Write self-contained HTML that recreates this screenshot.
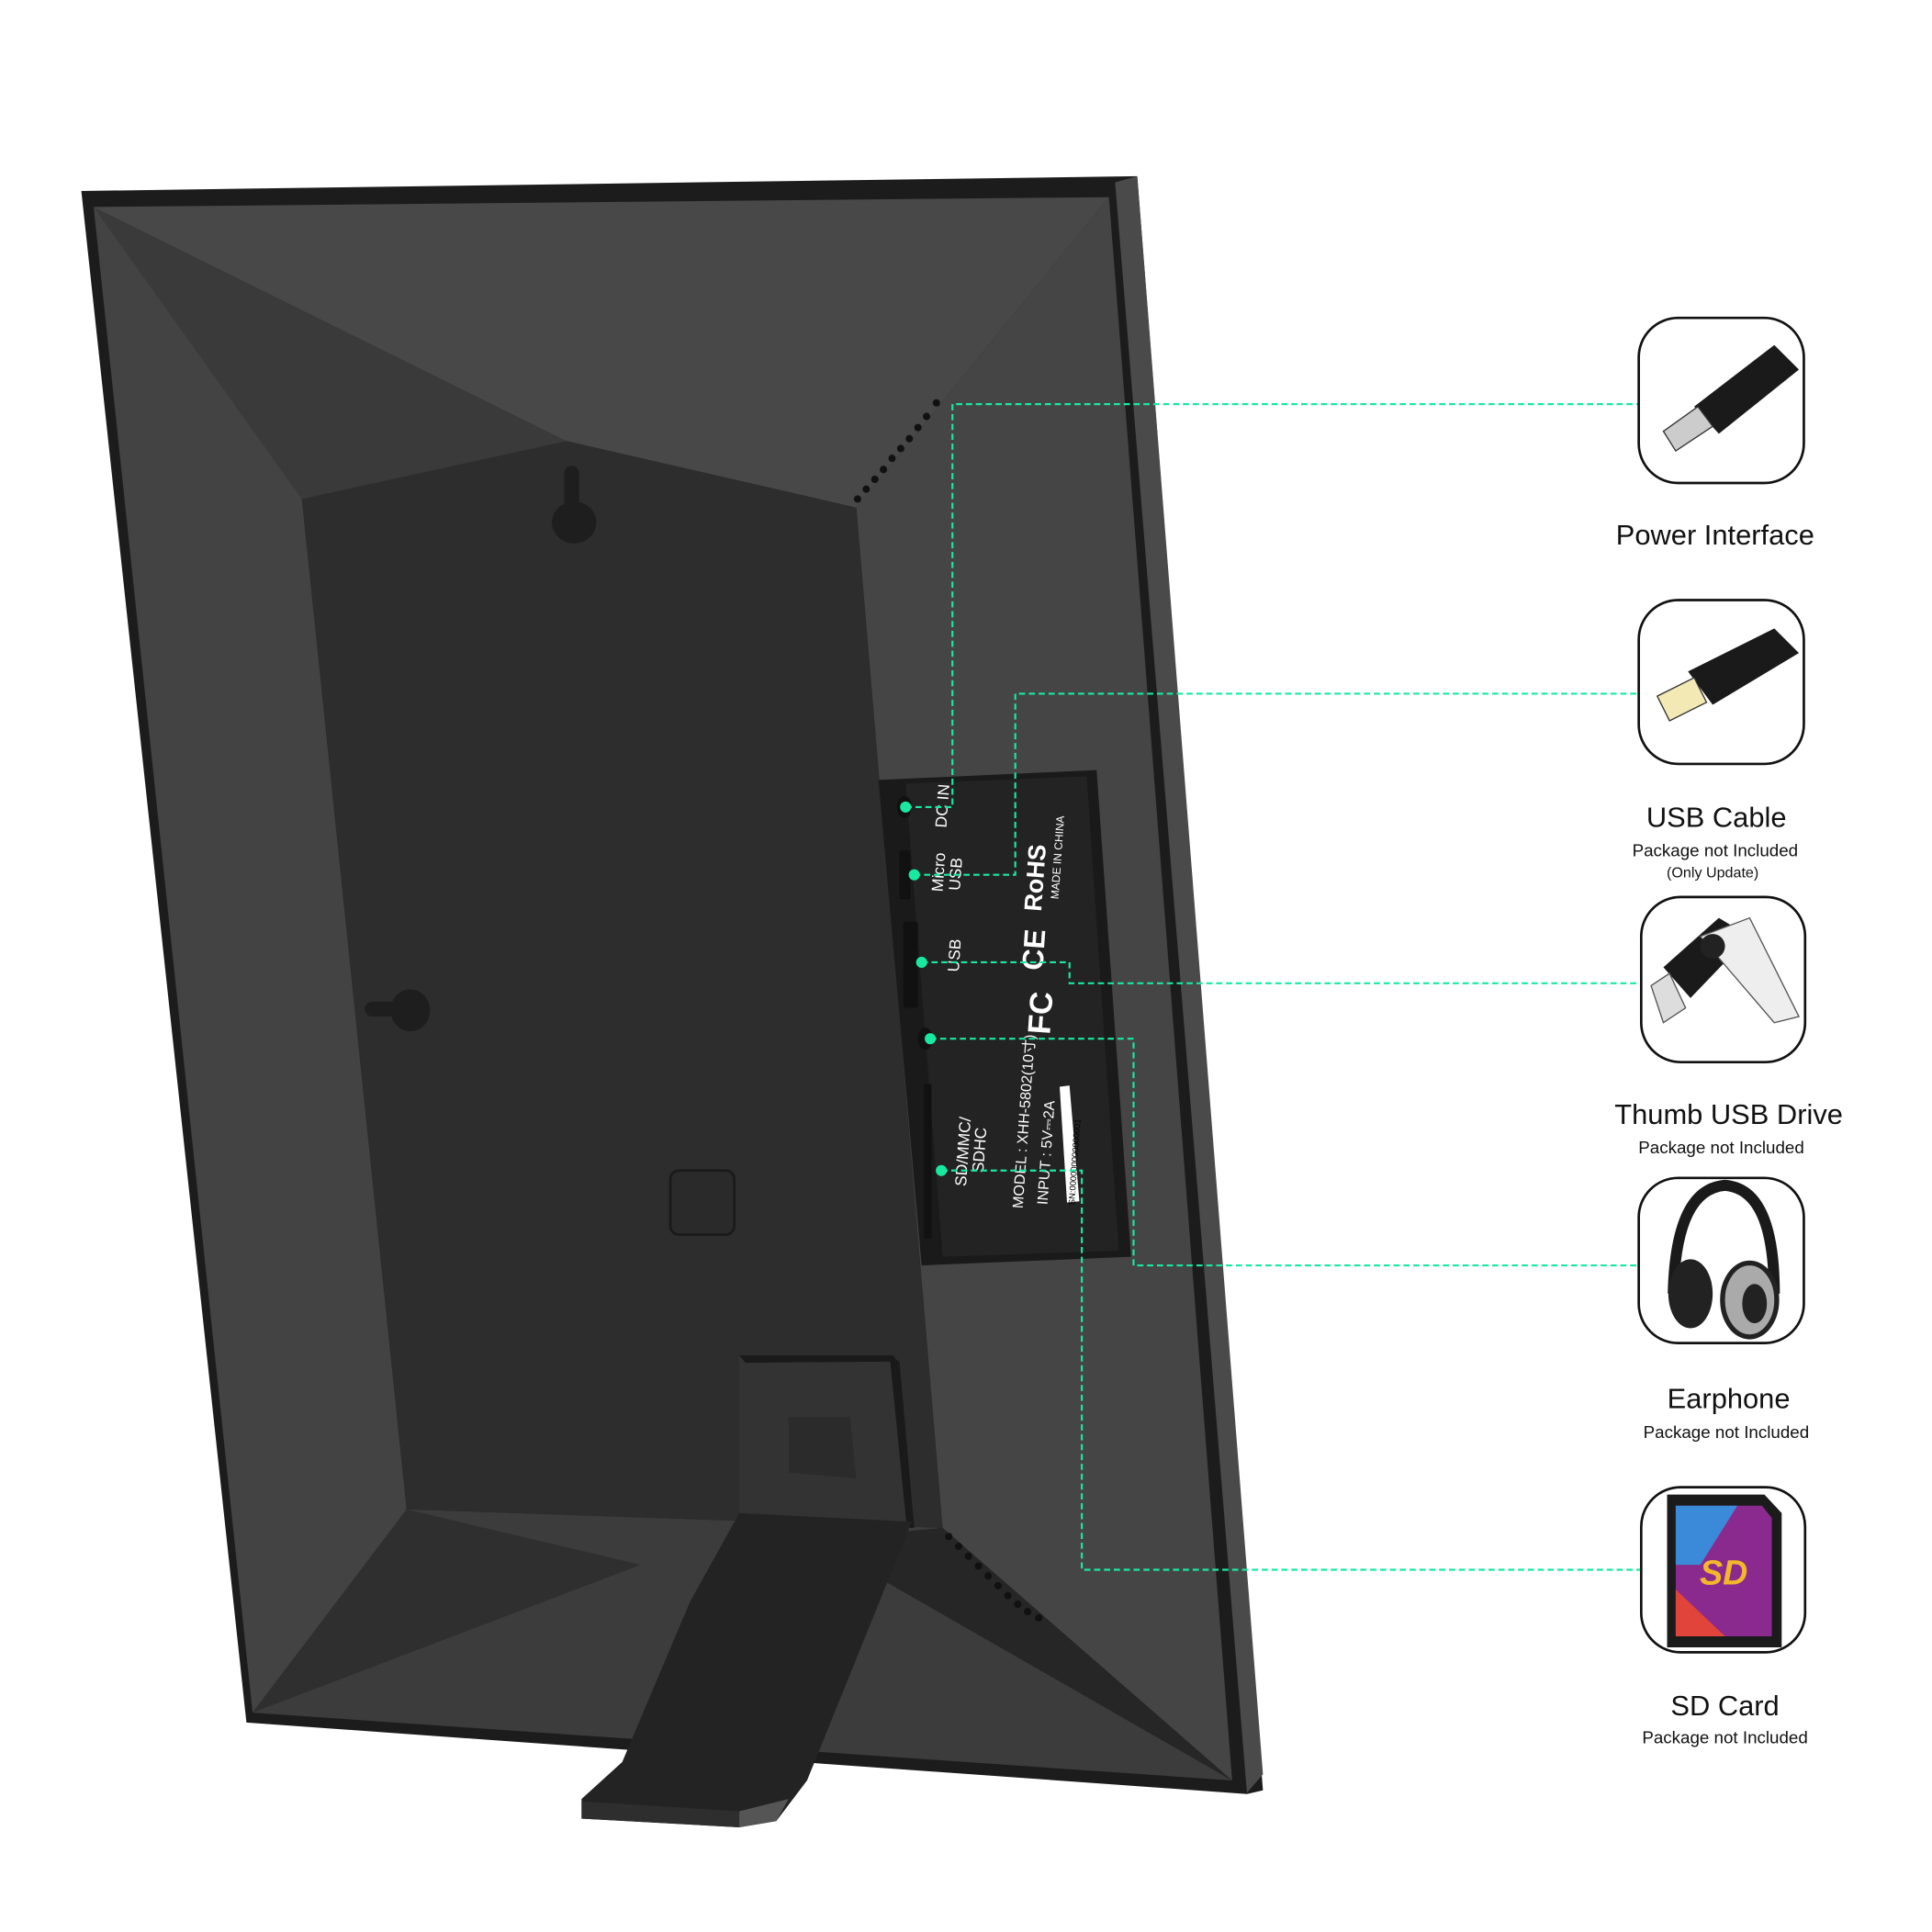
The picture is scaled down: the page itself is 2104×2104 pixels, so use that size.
<!DOCTYPE html>
<html><head><meta charset="utf-8"><style>
html,body{margin:0;padding:0;background:#fff;width:2104px;height:2104px;overflow:hidden}
svg{display:block}
text{font-family:"Liberation Sans",sans-serif}
</style></head><body>
<svg width="2104" height="2104" viewBox="0 0 1568 1568" xmlns="http://www.w3.org/2000/svg">
<rect width="1568" height="1568" fill="#fff"/>
<polygon points="66,155 923,143 1025,1453 1012,1456 200,1398" fill="#1c1c1c"/>
<polygon points="905,148 923,143 1025,1440 1012,1455" fill="#4a4a4a"/>
<polygon points="76,168 900,160 695,412 460,358 245,405" fill="#484848"/>
<polygon points="76,168 460,358 245,405" fill="#3a3a3a"/>
<polygon points="76,168 245,405 330,1225 205,1390" fill="#434343"/>
<polygon points="900,160 1000,1445 765,1240 695,412" fill="#454545"/>
<polygon points="205,1390 330,1225 765,1240 1000,1445" fill="#3c3c3c"/>
<polygon points="765,1240 1000,1445 660,1250" fill="#262626"/>
<polygon points="330,1225 205,1390 520,1270" fill="#2f2f2f"/>
<polygon points="245,405 460,358 695,412 765,1240 330,1225" fill="#2d2d2d"/>
<g fill="#111">
<circle cx="696" cy="405" r="3"/><circle cx="703" cy="397" r="3"/><circle cx="710" cy="389" r="3"/><circle cx="717" cy="381" r="3"/><circle cx="724" cy="372" r="3"/><circle cx="731" cy="364" r="3"/><circle cx="738" cy="356" r="3"/><circle cx="745" cy="347" r="3"/><circle cx="752" cy="338" r="3"/><circle cx="760" cy="327" r="3"/>
<circle cx="770" cy="1247" r="3"/><circle cx="778" cy="1255" r="3"/><circle cx="786" cy="1263" r="3"/><circle cx="794" cy="1271" r="3"/><circle cx="802" cy="1279" r="3"/><circle cx="810" cy="1287" r="3"/><circle cx="818" cy="1295" r="3"/><circle cx="826" cy="1302" r="3"/><circle cx="834" cy="1308" r="3"/><circle cx="843" cy="1313" r="3"/>
</g>
<ellipse cx="466" cy="424" rx="18" ry="17" fill="#1e1e1e"/><rect x="458" y="378" width="12" height="40" rx="6" fill="#1e1e1e"/>
<ellipse cx="333" cy="820" rx="16" ry="17" fill="#1e1e1e"/><rect x="296" y="813" width="40" height="12" rx="6" fill="#1e1e1e"/>
<rect x="544" y="950" width="52" height="52" rx="7" fill="#2a2a2a" stroke="#1a1a1a" stroke-width="2"/>
<polygon points="600,1100 725,1100 740,1235 600,1230" fill="#333"/>
<polygon points="640,1150 690,1150 695,1200 640,1195" fill="#2b2b2b"/>
<polygon points="600,1100 725,1100 728,1105 605,1106" fill="#1a1a1a"/>
<polygon points="722,1100 730,1105 742,1240 736,1240" fill="#1a1a1a"/>
<polygon points="600,1228 740,1235 655,1445 630,1478 600,1483 472,1476 472,1460 505,1430 560,1300" fill="#232323"/>
<polygon points="472,1462 600,1470 600,1483 472,1476" fill="#2e2e2e"/>
<polygon points="600,1470 640,1460 630,1478 600,1483" fill="#555"/>
<polygon points="713,633 890,625 918,1020 748,1027" fill="#1a1a1a"/>
<polygon points="735,636 882,630 908,1015 765,1020" fill="#232323"/>
<g fill="#111"><ellipse cx="734" cy="655" rx="6" ry="9"/><rect x="730" y="690" width="9" height="40" rx="2"/><rect x="733" y="748" width="12" height="70" rx="2"/><ellipse cx="751" cy="843" rx="6" ry="9"/><rect x="750" y="880" width="6" height="125"/></g>
<g fill="#fff" font-size="13">
<text transform="translate(768,672) rotate(-86)">DC IN</text>
<text transform="translate(765,724) rotate(-86)">Micro</text>
<text transform="translate(779,723) rotate(-86)">USB</text>
<text transform="translate(778,789) rotate(-86)">USB</text>
<text transform="translate(784,963) rotate(-86)">SD/MMC/</text>
<text transform="translate(798,952) rotate(-86)">SDHC</text>
<text transform="translate(830,981) rotate(-86)" font-size="12">MODEL : XHH-5802(10寸)</text>
<text transform="translate(850,978) rotate(-86)" font-size="12">INPUT : 5V⎓2A</text>
<text transform="translate(845,740) rotate(-86)" font-size="20" font-weight="bold">RoHS</text>
<text transform="translate(846,788) rotate(-86)" font-size="24" font-weight="bold">CE</text>
<text transform="translate(852,840) rotate(-86)" font-size="26" font-weight="bold">FC</text>
<text transform="translate(859,730) rotate(-86)" font-size="9">MADE IN CHINA</text>
</g>
<polygon points="860,882 868,881 876,975 866,976" fill="#fff"/>
<text transform="translate(872,978) rotate(-86)" font-size="7" fill="#000">SN:000000000000001</text>
<g fill="none" stroke="#19e9a0" stroke-width="1.6" stroke-dasharray="5,3">
<polyline points="735,655 773,655 773,328 1330,328"/>
<polyline points="742,710 824,710 824,563 1330,563"/>
<polyline points="748,781 868,781 868,798 1332,798"/>
<polyline points="755,843 920,843 920,1027 1330,1027"/>
<polyline points="764,950 878,950 878,1274 1332,1274"/>
</g>
<g fill="#19e9a0"><circle cx="735" cy="655" r="4.5"/><circle cx="742" cy="710" r="4.5"/><circle cx="748" cy="781" r="4.5"/><circle cx="755" cy="843" r="4.5"/><circle cx="764" cy="950" r="4.5"/></g>
<g fill="#fff" stroke="#111" stroke-width="2">
<rect x="1330" y="258" width="134" height="134" rx="32"/>
<rect x="1330" y="487" width="134" height="133" rx="32"/>
<rect x="1332" y="728" width="133" height="134" rx="32"/>
<rect x="1330" y="956" width="134" height="134" rx="32"/>
<rect x="1332" y="1207" width="133" height="134" rx="32"/>
</g>
<polygon points="1375,330 1440,280 1460,300 1395,352" fill="#1a1a1a"/>
<polygon points="1350,350 1378,330 1390,346 1360,366" fill="#ccc" stroke="#333"/>
<polygon points="1370,545 1440,510 1460,530 1390,572" fill="#1a1a1a"/>
<polygon points="1345,565 1375,550 1385,570 1355,585" fill="#f3e9b5" stroke="#333"/>
<polygon points="1350,785 1395,745 1420,760 1372,810" fill="#1a1a1a"/>
<polygon points="1380,760 1420,745 1460,825 1440,830" fill="#eee" stroke="#555"/>
<circle cx="1390" cy="768" r="10" fill="#222"/>
<polygon points="1340,800 1355,790 1368,818 1350,830" fill="#ddd" stroke="#555"/>
<path d="M1358,1050 Q1360,965 1400,962 Q1440,965 1440,1050" fill="none" stroke="#1a1a1a" stroke-width="9"/>
<ellipse cx="1372" cy="1050" rx="18" ry="28" fill="#222"/>
<ellipse cx="1420" cy="1055" rx="22" ry="30" fill="#aaa" stroke="#222" stroke-width="4"/>
<ellipse cx="1424" cy="1058" rx="10" ry="16" fill="#222"/>
<polygon points="1353,1213 1432,1213 1446,1228 1446,1337 1353,1337" fill="#1b1b1b"/>
<polygon points="1360,1222 1430,1222 1438,1232 1438,1328 1360,1328" fill="#8b2a8e"/>
<polygon points="1360,1222 1410,1222 1380,1270 1360,1270" fill="#3a8ad9"/>
<polygon points="1360,1290 1400,1328 1360,1328" fill="#e0443a"/>
<text x="1399" y="1286" font-size="28" font-weight="bold" fill="#f4b72c" text-anchor="middle" font-style="italic">SD</text>
<g fill="#111" text-anchor="middle">
<text x="1392" y="442" font-size="23">Power Interface</text>
<text x="1393" y="671" font-size="23">USB Cable</text>
<text x="1392" y="695" font-size="14">Package not Included</text>
<text x="1390" y="712" font-size="12">(Only Update)</text>
<text x="1403" y="912" font-size="23">Thumb USB Drive</text>
<text x="1397" y="936" font-size="14">Package not Included</text>
<text x="1403" y="1143" font-size="23">Earphone</text>
<text x="1401" y="1167" font-size="14">Package not Included</text>
<text x="1400" y="1392" font-size="23">SD Card</text>
<text x="1400" y="1415" font-size="14">Package not Included</text>
</g>
</svg>
</body></html>
